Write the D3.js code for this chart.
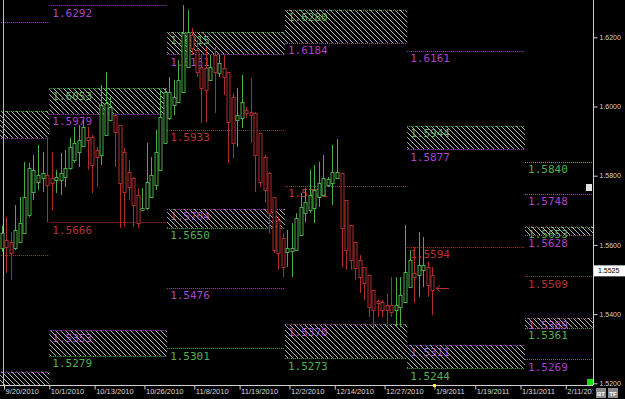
<!DOCTYPE html>
<html><head><meta charset="utf-8">
<script src="https://cdn.jsdelivr.net/npm/d3@7"></script>
<style>
html,body{margin:0;padding:0;background:#000;overflow:hidden;}
svg{display:block;}
</style></head><body>
<svg id="chart" width="625" height="399"></svg>
<script>
// ---------- DATA ----------
const opens  = [1.5591,1.5614,1.5608,1.5591,1.5608,1.5634,1.5686,1.5753,1.5782,1.5793,1.5802,1.5793,1.5788,1.5788,1.5796,1.5822,1.5845,1.5869,1.5886,1.5912,1.5912,1.5874,1.5860,1.5918,1.5961,1.5975,1.5946,1.5869,1.5811,1.5793,1.5744,1.5701,1.5707,1.5738,1.5773,1.5817,1.5895,1.5967,1.6004,1.6013,1.6042,1.6114,1.6207,1.6163,1.6114,1.6111,1.6077,1.6149,1.6097,1.6111,1.6100,1.6028,1.5961,1.5967,1.5989,1.5984,1.5981,1.5923,1.5854,1.5808,1.5738,1.5672,1.5620,1.5580,1.5582,1.5585,1.5628,1.5692,1.5701,1.5707,1.5738,1.5744,1.5773,1.5779,1.5793,1.5808,1.5730,1.5658,1.5608,1.5556,1.5536,1.5513,1.5470,1.5438,1.5435,1.5426,1.5426,1.5412,1.5421,1.5435,1.5478,1.5519,1.5513,1.5528,1.5536,1.5513];
const highs  = [1.5655,1.5681,1.5637,1.5715,1.5738,1.5840,1.5837,1.5860,1.5889,1.5869,1.5912,1.5869,1.5817,1.5866,1.5874,1.5909,1.5941,1.5946,1.5961,1.5941,1.5918,1.5883,1.6062,1.6100,1.6028,1.5981,1.5946,1.5880,1.5845,1.5796,1.5764,1.5764,1.5895,1.5854,1.5932,1.6048,1.6054,1.6085,1.6077,1.6134,1.6293,1.6279,1.6227,1.6192,1.6149,1.6172,1.6149,1.6172,1.6149,1.6149,1.6100,1.6039,1.6054,1.6091,1.5998,1.6082,1.5984,1.5923,1.5860,1.5811,1.5738,1.5681,1.5634,1.5643,1.5663,1.5692,1.5750,1.5764,1.5817,1.5831,1.5840,1.5860,1.5796,1.5889,1.5906,1.5808,1.5730,1.5658,1.5608,1.5571,1.5536,1.5513,1.5470,1.5441,1.5441,1.5461,1.5507,1.5507,1.5507,1.5658,1.5585,1.5594,1.5637,1.5623,1.5551,1.5536];
const lows   = [1.5580,1.5519,1.5499,1.5585,1.5605,1.5634,1.5681,1.5730,1.5759,1.5753,1.5666,1.5701,1.5750,1.5744,1.5767,1.5817,1.5837,1.5825,1.5883,1.5817,1.5750,1.5767,1.5831,1.5918,1.5961,1.5825,1.5649,1.5652,1.5730,1.5652,1.5649,1.5701,1.5701,1.5738,1.5759,1.5817,1.5895,1.5961,1.5975,1.6013,1.6042,1.6114,1.6149,1.6085,1.5952,1.5955,1.6077,1.5981,1.6085,1.6033,1.5837,1.5851,1.5883,1.5938,1.5967,1.5895,1.5753,1.5767,1.5721,1.5634,1.5577,1.5528,1.5507,1.5536,1.5507,1.5585,1.5628,1.5666,1.5692,1.5663,1.5710,1.5744,1.5767,1.5715,1.5793,1.5536,1.5528,1.5528,1.5499,1.5461,1.5441,1.5392,1.5360,1.5392,1.5392,1.5363,1.5392,1.5363,1.5363,1.5432,1.5478,1.5432,1.5450,1.5478,1.5450,1.5397];
const closes = [1.5634,1.5594,1.5577,1.5643,1.5663,1.5738,1.5822,1.5817,1.5802,1.5808,1.5773,1.5779,1.5796,1.5808,1.5822,1.5883,1.5895,1.5903,1.5941,1.5903,1.5831,1.5854,1.6004,1.6010,1.5998,1.5926,1.5779,1.5753,1.5767,1.5715,1.5663,1.5707,1.5782,1.5802,1.5869,1.5970,1.6042,1.6042,1.6028,1.6077,1.6212,1.6215,1.6169,1.6100,1.6054,1.6048,1.6114,1.6100,1.6126,1.6085,1.5955,1.5895,1.5975,1.6013,1.5981,1.5975,1.5860,1.5782,1.5759,1.5692,1.5585,1.5577,1.5536,1.5591,1.5591,1.5678,1.5710,1.5724,1.5744,1.5759,1.5779,1.5793,1.5791,1.5811,1.5811,1.5649,1.5585,1.5556,1.5533,1.5507,1.5490,1.5421,1.5412,1.5432,1.5412,1.5412,1.5406,1.5426,1.5455,1.5522,1.5556,1.5507,1.5542,1.5542,1.5484,1.5470];

const dateLabels = ["9/20/2010","10/1/2010","10/13/2010","10/26/2010","11/8/2010","11/19/2010","12/2/2010","12/14/2010","12/27/2010","1/9/2011","1/19/2011","1/31/2011","2/11/2011"];
const dateBars   = [1,11,21,32,43,53,64,74,85,96,105,115,125];
const priceTicks = [1.62,1.60,1.58,1.56,1.54,1.52];
const lastPrice = 1.5525;
const nextBar = 96;

// monthly pivot levels
const months          = ["Sep 2010","Oct 2010","Nov 2010","Dec 2010","Jan 2011","Feb 2011"];
const monthStartBar   = [-20, 11, 37, 63, 90, 116];
const monthEndBar     = [11, 37, 63, 90, 116, 131];
const upperZoneTop    = [1.5987, 1.6053, 1.6215, 1.6280, 1.5944, 1.5653];
const upperZoneBottom = [1.5909, 1.5979, 1.6151, 1.6184, 1.5877, 1.5628];
const pivotLevel      = [1.5571, 1.5666, 1.5933, 1.5771, 1.5594, 1.5509];
const lowerZoneTop    = [1.5234, 1.5353, 1.5704, 1.5370, 1.5311, 1.5389];
const lowerZoneBottom = [1.5165, 1.5279, 1.5650, 1.5273, 1.5244, 1.5361];
const extraMonth = [0, 1, 2, 2, 4, 5, 5, 5];
const extraValue = [1.6244, 1.6292, 1.5476, 1.5301, 1.6161, 1.5840, 1.5748, 1.5269];
const extraKind  = ["hi","hi","hi","lo","hi","lo","hi","hi"];

// ---------- CHART ----------
const W = 625, H = 399, PR = 593, PB = 385;
const GREEN = "#52b052", MAG = "#a844c8", RED = "#b83232";
const kindColor = {lo: GREEN, hi: MAG, pivot: RED};
const CUP = "#48ac48", CDN = "#b02c2c";

const svg = d3.select("#chart");
svg.append("rect").attr("width", W).attr("height", H).attr("fill", "#000");

const x = d3.scaleLinear().domain([-0.5, 130.5]).range([-0.5, PR]);
const y = d3.scaleLinear().domain([1.52, 1.62]).range([383.3, 37.3]);
const edge = i => x(i - 0.5);

const defs = svg.append("defs");
defs.append("clipPath").attr("id", "clip").append("rect")
  .attr("x", 0).attr("y", 0).attr("width", PR).attr("height", PB);
defs.append("clipPath").attr("id", "clipAxis").append("rect")
  .attr("x", 0).attr("y", -2).attr("width", PR).attr("height", 20);
const pat = defs.append("pattern").attr("id", "hatch")
  .attr("patternUnits", "userSpaceOnUse").attr("width", 5).attr("height", 5);
pat.append("path").attr("d", "M-1,-1L6,6M-1,4L1,6M4,-1L6,1")
  .attr("stroke", "#b4b4b4").attr("stroke-width", 1);

const plot = svg.append("g").attr("clip-path", "url(#clip)");

// build level lines and zones
const lines = [], zones = [];
months.forEach((m, k) => {
  lines.push({k, v: upperZoneTop[k], kind: "lo"});
  lines.push({k, v: upperZoneBottom[k], kind: "hi"});
  lines.push({k, v: pivotLevel[k], kind: "pivot"});
  lines.push({k, v: lowerZoneTop[k], kind: "hi"});
  lines.push({k, v: lowerZoneBottom[k], kind: "lo"});
  zones.push({k, top: upperZoneTop[k], bottom: upperZoneBottom[k]});
  zones.push({k, top: lowerZoneTop[k], bottom: lowerZoneBottom[k]});
});
extraValue.forEach((v, j) => lines.push({k: extraMonth[j], v, kind: extraKind[j]}));

// labels (under hatch); labels whose month starts off-screen are not shown
plot.append("g").selectAll("text")
  .data(lines.filter(d => edge(monthStartBar[d.k]) >= 0 && y(d.v) + 12 < PB))
  .join("text")
  .attr("x", d => edge(monthStartBar[d.k]) + 3)
  .attr("y", d => y(d.v) + 11.5)
  .attr("fill", d => kindColor[d.kind])
  .attr("font-family", "DejaVu Sans Mono, monospace")
  .attr("font-size", 11)
  .text(d => d.v.toFixed(4));

// hatched zones
plot.append("g").selectAll("rect").data(zones).join("rect")
  .attr("x", d => edge(monthStartBar[d.k]))
  .attr("width", d => edge(monthEndBar[d.k]) - edge(monthStartBar[d.k]))
  .attr("y", d => y(d.top))
  .attr("height", d => y(d.bottom) - y(d.top))
  .attr("fill", "url(#hatch)");

// dotted level lines
plot.append("g").selectAll("line").data(lines).join("line")
  .attr("x1", d => edge(monthStartBar[d.k]))
  .attr("x2", d => edge(monthEndBar[d.k]))
  .attr("y1", d => Math.round(y(d.v)) + 0.5)
  .attr("y2", d => Math.round(y(d.v)) + 0.5)
  .attr("stroke", d => kindColor[d.kind])
  .attr("stroke-width", 1)
  .attr("stroke-dasharray", "1,1");

// left session line
plot.append("line").attr("x1", 3.5).attr("x2", 3.5).attr("y1", 0).attr("y2", PB)
  .attr("stroke", "#bbbbbb").attr("stroke-width", 1);

// candles
const bars = opens.map((o, i) => ({i, o, h: highs[i], l: lows[i], c: closes[i]}));
const cg = plot.append("g");
cg.selectAll("line").data(bars).join("line")
  .attr("x1", d => Math.round(x(d.i)) + 0.5).attr("x2", d => Math.round(x(d.i)) + 0.5)
  .attr("y1", d => y(d.h)).attr("y2", d => y(d.l))
  .attr("stroke", d => d.c >= d.o ? CUP : CDN).attr("stroke-width", 1);
cg.selectAll("rect").data(bars).join("rect")
  .attr("x", d => Math.round(x(d.i)) - 1)
  .attr("width", 3)
  .attr("y", d => Math.round(y(Math.max(d.o, d.c))) + 0.5)
  .attr("height", d => Math.max(1, Math.round(y(Math.min(d.o, d.c)) - y(Math.max(d.o, d.c)))))
  .attr("fill", "#000")
  .attr("stroke", d => d.c >= d.o ? CUP : CDN).attr("stroke-width", 1);

// arrow at last bar
const lb = bars[bars.length - 1];
const ax = Math.round(x(lb.i)) + 4, ay = Math.round(y(lb.c)) - 1.5;
plot.append("path")
  .attr("d", `M${ax + 13},${ay}L${ax},${ay}M${ax + 4},${ay - 3}L${ax},${ay}L${ax + 4},${ay + 3}`)
  .attr("stroke", RED).attr("fill", "none").attr("stroke-width", 1);

// right price axis
const yAxis = svg.append("g").attr("transform", `translate(${PR + 0.5},0)`)
  .call(d3.axisRight(y).tickValues(priceTicks).tickSize(4).tickFormat(d3.format(".4f")));
yAxis.select(".domain").attr("d", `M0,0V${PB}`).attr("stroke", "#cfcfcf");
yAxis.selectAll(".tick line").attr("stroke", "#cfcfcf");
yAxis.selectAll(".tick text").attr("fill", "#d0d0d0").attr("x", 6)
  .attr("font-family", "Liberation Sans, Arial, sans-serif").attr("font-size", 7);

// last price box
const lpy = y(lastPrice);
svg.append("rect").attr("x", PR + 1).attr("y", lpy - 5.5).attr("width", 31).attr("height", 11).attr("fill", "#ffffff");
svg.append("text").attr("x", PR + 5).attr("y", lpy + 2.5).attr("fill", "#000")
  .attr("font-family", "Liberation Sans, Arial, sans-serif").attr("font-size", 7).text(lastPrice.toFixed(4));

// bottom date axis
const xb = d3.scaleLinear().domain([0, 131]).range([edge(0), edge(131)]);
const xAxis = svg.append("g").attr("transform", `translate(0,${PB + 0.5})`).attr("clip-path", "url(#clipAxis)");
xAxis.call(d3.axisBottom(xb).tickValues(dateBars).tickSize(4)
  .tickFormat((d, j) => dateLabels[j]));
xAxis.select(".domain").attr("d", `M0,0H${PR}`).attr("stroke", "#cfcfcf");
xAxis.selectAll(".tick line").attr("stroke", "#cfcfcf");
xAxis.selectAll(".tick text").attr("fill", "#d8d8d8").attr("text-anchor", "start")
  .attr("x", 1).attr("y", 3).attr("dy", "0.71em")
  .attr("font-family", "Liberation Sans, Arial, sans-serif").attr("font-size", 7.5);

// next-bar marker
svg.append("rect").attr("x", Math.round(xb(nextBar)) - 1).attr("y", PB - 1).attr("width", 3).attr("height", 3).attr("fill", "#ffee33");

// corner widgets
svg.append("rect").attr("x", 587).attr("y", 379).attr("width", 6).attr("height", 6).attr("fill", "#10e010");
svg.append("rect").attr("x", 586).attr("y", 184).attr("width", 6).attr("height", 7).attr("fill", "#e0e0e0");
[["BT", 596], ["TF", 608]].forEach(([t, bx]) => {
  svg.append("rect").attr("x", bx).attr("y", 388).attr("width", 10).attr("height", 10).attr("fill", "#8a8a8a");
  svg.append("text").attr("x", bx + 5).attr("y", 396).attr("text-anchor", "middle")
    .attr("fill", "#fff").attr("font-family", "Liberation Sans, Arial, sans-serif")
    .attr("font-weight", "bold").attr("font-size", 6).text(t);
});
</script>
</body></html>
